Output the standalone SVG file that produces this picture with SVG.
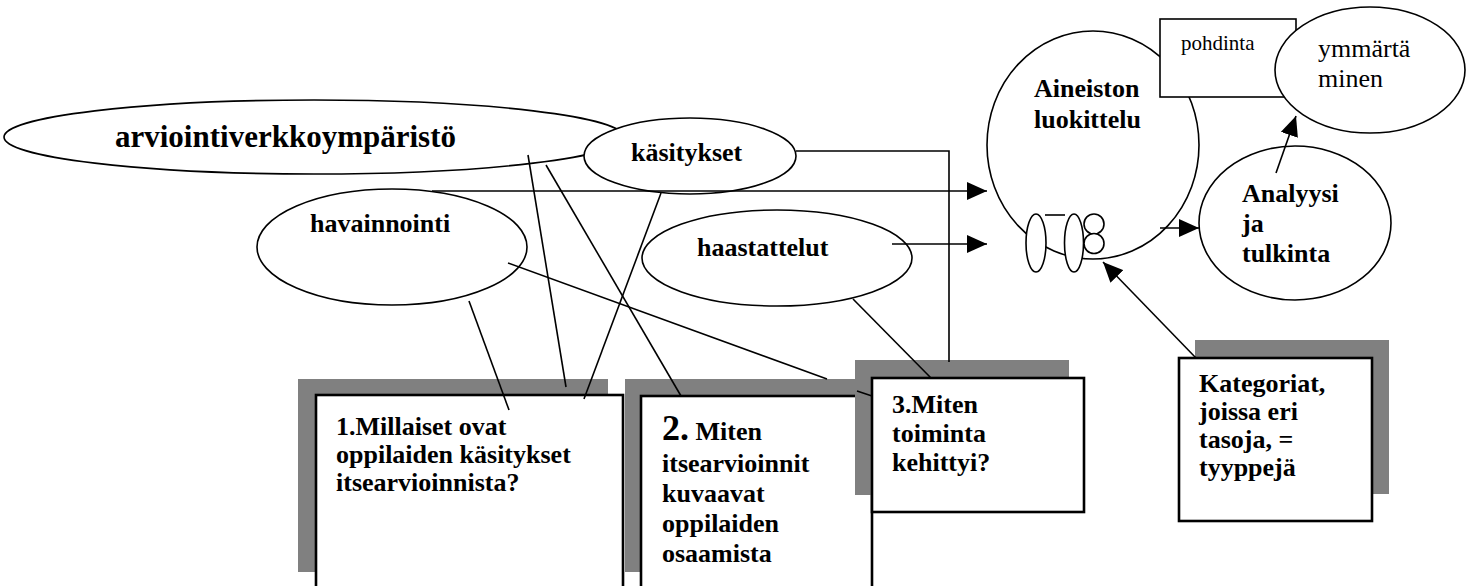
<svg xmlns="http://www.w3.org/2000/svg" width="1467" height="586" viewBox="0 0 1467 586">
  <style>
    .shape { fill: #ffffff; stroke: #000000; stroke-width: 1.6; }
    .box { fill: #ffffff; stroke: #000000; stroke-width: 2.6; }
    .shadow { fill: #808080; stroke: none; }
    .b { font-family: "Liberation Serif", "Times New Roman", serif; font-weight: bold; font-size: 26px; fill: #000000; }
    .r { font-family: "Liberation Serif", "Times New Roman", serif; font-weight: normal; font-size: 26px; fill: #000000; }
    .link { fill: none; stroke: #000000; stroke-width: 1.6; }
  </style>
  <defs>
    <marker id="arrow" markerUnits="userSpaceOnUse" markerWidth="20" markerHeight="18" refX="20" refY="9" orient="auto">
      <path d="M0,0 L20,9 L0,18 Z" fill="#000000"/>
    </marker>
  </defs>

  <rect width="1467" height="586" fill="#ffffff"/>

  <!-- input ellipses -->
  <g id="arviointiverkkoymparisto">
    <ellipse class="shape" cx="314" cy="137" rx="310" ry="37"/>
    <text class="b" x="115" y="147" style="font-size:31px">arviointiverkkoympäristö</text>
  </g>
  <g id="kasitykset">
    <ellipse class="shape" cx="690" cy="156" rx="106" ry="38"/>
    <text class="b" x="631" y="161">käsitykset</text>
  </g>
  <g id="havainnointi">
    <ellipse class="shape" cx="392" cy="247" rx="135" ry="58"/>
    <text class="b" x="310" y="232">havainnointi</text>
  </g>
  <g id="haastattelut">
    <ellipse class="shape" cx="777" cy="258" rx="135" ry="48"/>
    <text class="b" x="697" y="256">haastattelut</text>
  </g>

  <!-- classification circle with small figure -->
  <g id="aineiston-luokittelu">
    <ellipse class="shape" cx="1093" cy="145" rx="106" ry="114"/>
    <text class="b" x="1034" y="97">Aineiston</text>
    <text class="b" x="1034" y="128">luokittelu</text>
    <ellipse class="shape" cx="1036" cy="243" rx="10" ry="29"/>
    <line class="link" x1="1045" y1="215" x2="1065" y2="215"/>
    <ellipse class="shape" cx="1074" cy="243" rx="9.5" ry="29"/>
    <circle class="shape" cx="1094" cy="224" r="10"/>
    <circle class="shape" cx="1094" cy="243.5" r="10"/>
  </g>
  <g id="pohdinta">
    <rect class="shape" x="1160" y="19" width="136" height="78"/>
    <text class="r" x="1181" y="50" style="font-size:21px">pohdinta</text>
  </g>
  <g id="ymmartaminen">
    <ellipse class="shape" cx="1370" cy="70" rx="95" ry="63"/>
    <text class="r" x="1318" y="57">ymmärtä</text>
    <text class="r" x="1318" y="87">minen</text>
  </g>
  <g id="analyysi">
    <ellipse class="shape" cx="1295" cy="223" rx="96" ry="77"/>
    <text class="b" x="1242" y="202">Analyysi</text>
    <text class="b" x="1242" y="232">ja</text>
    <text class="b" x="1242" y="262">tulkinta</text>
  </g>

  <!-- research question boxes with offset shadows -->
  <g id="kysymys-1">
    <rect class="shadow" x="298" y="379" width="310" height="193"/>
    <rect class="box" x="316" y="395" width="307" height="210"/>
    <text class="b" x="336" y="435">1.Millaiset ovat</text>
    <text class="b" x="336" y="463">oppilaiden käsitykset</text>
    <text class="b" x="336" y="491">itsearvioinnista?</text>
  </g>
  <g id="kysymys-2">
    <rect class="shadow" x="625" y="379" width="232" height="193"/>
    <rect class="box" x="641" y="396" width="231" height="210"/>
    <text class="b" x="662" y="440"><tspan style="font-size:36px">2.</tspan> Miten</text>
    <text class="b" x="662" y="472">itsearvioinnit</text>
    <text class="b" x="662" y="502">kuvaavat</text>
    <text class="b" x="662" y="532">oppilaiden</text>
    <text class="b" x="662" y="562">osaamista</text>
  </g>
  <g id="kysymys-3">
    <rect class="shadow" x="855" y="360" width="214" height="135"/>
    <rect class="box" x="872" y="378" width="212" height="134"/>
    <text class="b" x="892" y="413">3.Miten</text>
    <text class="b" x="892" y="442">toiminta</text>
    <text class="b" x="892" y="471">kehittyi?</text>
  </g>
  <g id="kategoriat">
    <rect class="shadow" x="1195" y="340" width="194" height="154"/>
    <rect class="box" x="1179" y="358" width="193" height="163"/>
    <text class="b" x="1199" y="392">Kategoriat,</text>
    <text class="b" x="1199" y="420">joissa eri</text>
    <text class="b" x="1199" y="448">tasoja, =</text>
    <text class="b" x="1199" y="476">tyyppejä</text>
  </g>

  <!-- connectors -->
  <g id="connectors">
    <line class="link" x1="528" y1="155" x2="566" y2="387"/>
    <line class="link" x1="546" y1="165" x2="681" y2="396"/>
    <line class="link" x1="661" y1="193" x2="584" y2="399"/>
    <line class="link" x1="469" y1="301" x2="509" y2="410"/>
    <line class="link" x1="508" y1="263" x2="827" y2="379"/>
    <line class="link" x1="857" y1="391" x2="872" y2="396"/>
    <line class="link" x1="853" y1="299" x2="931" y2="378"/>
    <polyline class="link" points="796,151 949,151 949,362"/>
    <line class="link" x1="432" y1="191" x2="987" y2="191" marker-end="url(#arrow)"/>
    <line class="link" x1="892" y1="244" x2="987" y2="244" marker-end="url(#arrow)"/>
    <line class="link" x1="1160" y1="228" x2="1199" y2="228" marker-end="url(#arrow)"/>
    <line class="link" x1="1276" y1="173" x2="1296" y2="116" marker-end="url(#arrow)"/>
    <line class="link" x1="1196" y1="358" x2="1103" y2="262" marker-end="url(#arrow)"/>
  </g>
</svg>
